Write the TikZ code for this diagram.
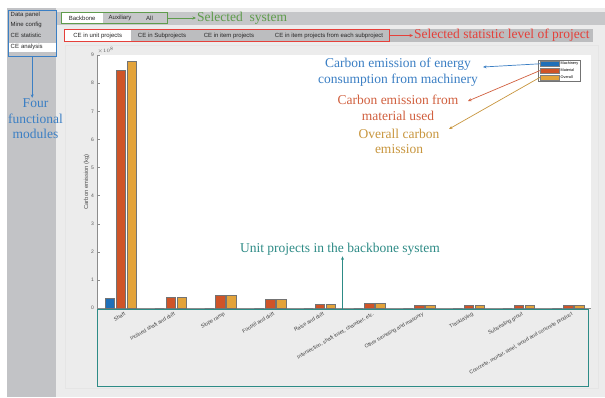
\documentclass[tikz,border=0pt]{standalone}
\usepackage{fontspec}
\setmainfont{Liberation Serif}
\setsansfont{Liberation Sans}
\usepackage{xcolor}
\usetikzlibrary{arrows.meta, positioning, fit, backgrounds}
\definecolor{panelgray}{HTML}{C2C3C6}
\definecolor{workgray}{HTML}{ECECEC}
\definecolor{tabgray}{HTML}{C6C7C9}
\definecolor{machblue}{HTML}{1F6FB8}
\definecolor{matred}{HTML}{CF5428}
\definecolor{allorange}{HTML}{E3A33A}
\definecolor{annblue}{HTML}{3B7FC4}
\definecolor{annred}{HTML}{D1603F}
\definecolor{anngold}{HTML}{C8963E}
\definecolor{anngreen}{HTML}{5F9C4C}
\definecolor{annpink}{HTML}{E5403A}
\definecolor{annteal}{HTML}{2D8B86}
\tikzset{
  menuitem/.style={font=\sffamily\fontsize{6}{7}\selectfont,anchor=west,text width=43pt,align=left,inner xsep=2.5pt,inner ysep=0pt,minimum height=9pt,text=black!85},
  tabitem/.style={font=\sffamily\fontsize{6}{7}\selectfont,inner xsep=3pt,inner ysep=0pt,minimum height=11pt,text=black!85},
  annot/.style={font=\fontsize{13.5}{15.5}\selectfont,align=center,inner sep=1pt},
  callout/.style={-{Stealth[length=3.5pt,width=3pt]},line width=0.7pt},
  barbox/.style={draw=black!55,line width=0.5pt},
  catlabel/.style={font=\sffamily\fontsize{5.2}{6}\selectfont,rotate=30,anchor=north east,inner sep=0.5pt,text=black!75},
  ticklabel/.style={font=\sffamily\fontsize{5}{6}\selectfont,anchor=east,inner sep=1pt,text=black!65},
  swatch/.style={draw=black!50,line width=0.3pt,minimum width=19pt,minimum height=4.5pt,inner sep=0pt},
  legtext/.style={font=\sffamily\fontsize{3.8}{4}\selectfont,inner sep=0.3pt,anchor=west},
}

\begin{document}
\begin{tikzpicture}[x=1pt,y=-1pt]
  \useasboundingbox (0,0) rectangle (605,397);
  % window
  \fill[white] (0,0) rectangle (605,397);
  \fill[panelgray] (7,8) rectangle (56,397);
  \fill[workgray] (56,8) rectangle (605,397);
  \fill[tabgray] (56,12) rectangle (605,25);
  \fill[tabgray!95!black] (64,29) rectangle (593,42);
  \draw[black!10] (65,45) rectangle (598,388);
  \fill[white] (97,55) rectangle (591,308);

  % functional modules
  \node[menuitem] (mData) at (8,15) {Data panel};
  \node[menuitem] (mMine) at (8,25) {Mine config};
  \node[menuitem] (mStat) at (8,35.5) {CE statistic};
  \node[menuitem,fill=white] (mAnalysis) at (8,47) {CE analysis};
  \coordinate (modFoot) at (32,56.5);
  \node[draw=annblue,line width=0.8pt,inner sep=0pt,fit=(mData)(mAnalysis)(modFoot)] (modbox) {};
  \node[annot,text=annblue] (modtxt) at (35.5,119) {Four\\functional\\modules};
  \draw[callout,annblue] (modbox.south) -- (modbox.south |- modtxt.north);

  % system tabs
  \node[tabitem,fill=white,minimum width=41pt,anchor=west] (tBack) at (61.5,18) {Backbone};
  \node[tabitem] (tAux) at (120,18) {Auxiliary};
  \node[tabitem] (tAll) at (149.5,18) {All};
  \coordinate (sysEnd) at (167,18);
  \node[draw=anngreen,line width=0.8pt,inner sep=0pt,fit=(tBack)(tAll)(sysEnd)] (sysbox) {};
  \node[annot,text=anngreen,anchor=west] (systxt) at (196,18) {Selected~ system};
  \draw[callout,anngreen] (sysbox.east) -- (systxt.west);

  % statistic level tabs
  \node[tabitem,fill=white,minimum width=67pt,minimum height=12pt,anchor=west] (tUnit) at (64,35.5) {CE in unit projects};
  \node[tabitem] (tSub) at (162,35.5) {CE in Subprojects};
  \node[tabitem] (tItem) at (229,35.5) {CE in item projects};
  \node[tabitem] (tEach) at (329,35.5) {CE in item projects from each subproject};
  \coordinate (lvlEnd) at (389,35.5);
  \node[draw=annpink,line width=0.8pt,inner sep=0pt,fit=(tUnit)(tEach)(lvlEnd)] (lvlbox) {};
  \node[annot,text=annpink,anchor=west] (lvltxt) at (413,35.5) {Selected statistic level of project};
  \draw[callout,annpink] (lvlbox.east) -- (lvltxt.west);

  % axes
  \draw[black!45,line width=0.5pt] (97,55) -- (97,308) -- (591,308);
  \foreach \t in {0,...,9}
    \draw[black!45,line width=0.4pt] (97,308-28.1*\t) -- (100,308-28.1*\t)
      node[ticklabel] at (95,308-28.1*\t) {\t};
  \node[font=\sffamily\fontsize{4.5}{5}\selectfont,text=black!65,anchor=south west,inner sep=0.5pt] (expo) at (97,54) {$\times10^{8}$};
  \node[font=\sffamily\fontsize{5.8}{6}\selectfont,text=black!70,rotate=90] (ylab) at (86.5,182) {Carbon emission (kg)};

  % bars
  \foreach \mv/\rv/\ov [count=\i from 0] in {0.35/8.45/8.78,0/0.38/0.39,0/0.45/0.46,0/0.30/0.30,0/0.15/0.15,0/0.17/0.17,0/0.10/0.10,0/0.10/0.10,0/0.10/0.10,0/0.10/0.10}{
    \pgfmathsetmacro\cx{120.9+49.7*\i}
    \draw[barbox,fill=machblue] (\cx-15.75,308) rectangle (\cx-6.25,308-28.1*\mv);
    \draw[barbox,fill=matred] (\cx-4.75,308) rectangle (\cx+4.75,308-28.1*\rv);
    \draw[barbox,fill=allorange] (\cx+6.25,308) rectangle (\cx+15.75,308-28.1*\ov);
  }

  % unit project labels
  \coordinate (cbNW) at (97,309);
  \coordinate (cbSE) at (588,386);
  \node[draw=annteal,line width=0.8pt,inner sep=0pt,fit=(cbNW)(cbSE)] (catbox) {};
  \foreach \lab [count=\i from 0] in {Shaft,Inclined shaft and drift,Slope ramp,Footrill and drift,Raise and drift,{Intersection, shaft inset, chamber, etc.},Other tunneling and masonry,Tracklaying,Subsealing grout,{Concrete, mortar, steel, wood and concrete product}}
    \node[catlabel] (cat\i) at (124+49.7*\i,311) {\lab};
  \node[annot,text=annteal] (unittxt) at (340,249) {Unit projects in the backbone system};
  \draw[callout,annteal] (catbox.north) -- (catbox.north |- unittxt.south);

  % legend
  \node[swatch,fill=machblue] (sMach) at (549.5,63.8) {};
  \node[swatch,fill=matred,below=2pt of sMach] (sMat) {};
  \node[swatch,fill=allorange,below=2pt of sMat] (sAll) {};
  \node[legtext,right=1pt of sMach] (lMach) {Machinery};
  \node[legtext,right=1pt of sMat] (lMat) {Material};
  \node[legtext,right=1pt of sAll] (lAll) {Overall};
  \node[draw=black!55,line width=0.4pt,fill=none,inner sep=1.2pt,fit=(sMach)(sAll)(lMach)(lAll)] (legbox) {};

  % legend callouts
  \node[annot,text=annblue] (annMach) at (398,72) {Carbon emission of energy\\consumption from machinery};
  \node[annot,text=annred] (annMat) at (398,108) {Carbon emission from\\material used};
  \node[annot,text=anngold] (annAll) at (399,141.5) {Overall carbon\\emission};
  \coordinate (tipMach) at (483,67);
  \coordinate (tipMat) at (468,101);
  \coordinate (tipAll) at (449,129);
  \draw[callout,annblue] (sMach.west) -- (tipMach);
  \draw[callout,annred] (sMat.west) -- (tipMat);
  \draw[callout,anngold] (sAll.west) -- (tipAll);
\end{tikzpicture}
\end{document}
